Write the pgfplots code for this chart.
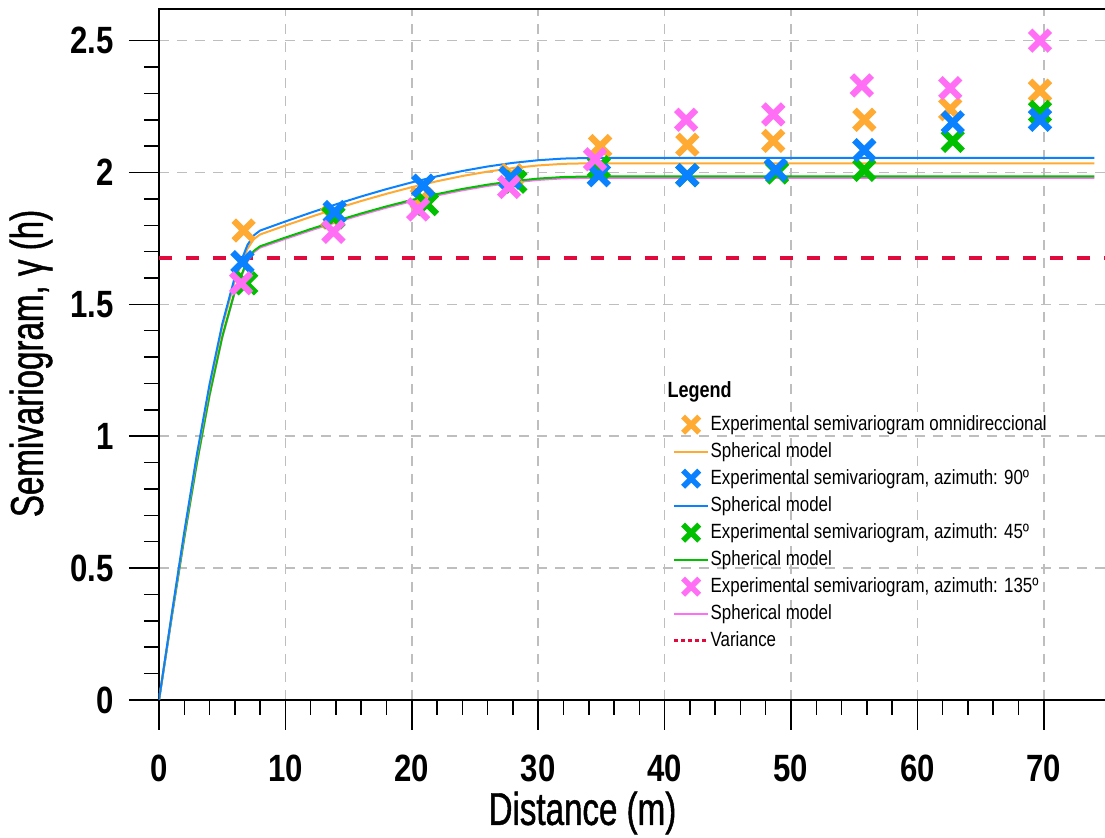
\documentclass[border=0pt]{standalone}
\usepackage{pgfplots}
\pgfplotsset{compat=1.18}
\usepackage{fontspec}
\setmainfont{Liberation Sans}[FakeStretch=0.82]
\newfontfamily\labelfont{Liberation Sans}[FakeStretch=0.72, FakeBold=1.0]
\definecolor{corange}{RGB}{255,170,51}
\definecolor{cblue}{RGB}{10,130,255}
\definecolor{cgreen}{RGB}{0,192,0}
\definecolor{cpink}{RGB}{255,110,245}
\definecolor{cred}{RGB}{225,10,60}
\definecolor{cgrid}{RGB}{190,190,190}
\begin{document}
\begin{tikzpicture}
\begin{axis}[
  scale only axis, width=474pt, height=345.5pt,
  xmin=0, xmax=75, ymin=0, ymax=2.62,
  xtick={0,10,20,30,40,50,60,70},
  ytick={0,0.5,1,1.5,2,2.5},
  minor x tick num=4, minor y tick num=4,
  tick align=outside, xtick pos=bottom, ytick pos=left,
  major tick length=15pt, minor tick length=7.5pt,
  every tick/.style={black, line width=0.75pt},
  axis line style={black, line width=0.9pt},
  grid=major,
  major grid style={cgrid, line width=0.85pt, dash pattern=on 5pt off 4pt},
  /pgf/number format/assume math mode=true,
  tick label style={font=\fontsize{19}{21}\selectfont\bfseries},
  yticklabel style={xshift=-4pt},
  xticklabel style={yshift=-9pt},
  label style={font=\labelfont\fontsize{23}{25}\selectfont},
  xlabel={Distance (m)},
  ylabel={Semivariogram, γ (h)},
  xlabel style={at={(rel axis cs:0.4467,0)}, anchor=center, yshift=-56.5pt},
  ylabel style={at={(rel axis cs:-0.135,0.487)}, anchor=center},
  legend cell align=left,
  legend style={at={(rel axis cs:0.535,0.42)}, anchor=north west, draw=none, fill=none,
    font=\fontsize{10.3}{12}\selectfont, row sep=3pt,
    nodes={inner sep=0.5pt, text height=7.5pt, text depth=2pt}},
]
% legend images
\addlegendimage{only marks, mark=x, mark size=5.7pt, line width=2.8pt, corange}
\addlegendentry{Experimental semivariogram omnidireccional}
\addlegendimage{corange, line width=1pt}
\addlegendentry{Spherical model}
\addlegendimage{only marks, mark=x, mark size=5.7pt, line width=2.8pt, cblue}
\addlegendentry{Experimental semivariogram, azimuth: 90º}
\addlegendimage{cblue, line width=1pt}
\addlegendentry{Spherical model}
\addlegendimage{only marks, mark=x, mark size=5.7pt, line width=2.8pt, cgreen}
\addlegendentry{Experimental semivariogram, azimuth: 45º}
\addlegendimage{cgreen, line width=1pt}
\addlegendentry{Spherical model}
\addlegendimage{only marks, mark=x, mark size=5.7pt, line width=2.8pt, cpink}
\addlegendentry{Experimental semivariogram, azimuth: 135º}
\addlegendimage{cpink, line width=1pt}
\addlegendentry{Spherical model}
\addlegendimage{cred, line width=1.5pt, dash pattern=on 2pt off 1.5pt}
\addlegendentry{Variance}

% variance
\addplot[forget plot, cred, line width=2pt, dash pattern=on 6.5pt off 7pt] coordinates {(0,1.677) (75,1.677)};

% spherical models
\addplot[forget plot, cpink, line width=1pt] coordinates {
(0,0) (1,0.3117) (2,0.6141) (3,0.8979) (4,1.1540) (5,1.3730) (6,1.5457) (7,1.6629) (7.5,1.6978) (8,1.7153)
(10,1.7485) (12,1.7805) (14,1.8110) (16,1.8398) (18,1.8666) (20,1.8911) (22,1.9132) (24,1.9326) (26,1.9490)
(28,1.9622) (30,1.9719) (32,1.9779) (34,1.980) (74,1.980)};
\addplot[forget plot, cgreen, line width=1pt] coordinates {
(0,0) (1,0.3126) (2,0.6159) (3,0.9006) (4,1.1574) (5,1.3771) (6,1.5503) (7,1.6678) (7.5,1.7028) (8,1.7203)
(10,1.7535) (12,1.7855) (14,1.8160) (16,1.8448) (18,1.8716) (20,1.8961) (22,1.9182) (24,1.9376) (26,1.9540)
(28,1.9672) (30,1.9769) (32,1.9829) (34,1.985) (74,1.985)};
\addplot[forget plot, corange, line width=1pt] coordinates {
(0,0) (1,0.3208) (2,0.6320) (3,0.9241) (4,1.1877) (5,1.4131) (6,1.5908) (7,1.7113) (7.5,1.7471) (8,1.7651)
(10,1.7990) (12,1.8316) (14,1.8627) (16,1.8920) (18,1.9193) (20,1.9444) (22,1.9669) (24,1.9867) (26,2.0034)
(28,2.0168) (30,2.0268) (32,2.0329) (34,2.035) (74,2.035)};
\addplot[forget plot, cblue, line width=1pt] coordinates {
(0,0) (1,0.3233) (2,0.6371) (3,0.9316) (4,1.1973) (5,1.4246) (6,1.6039) (7,1.7255) (7.5,1.7617) (8,1.7799)
(10,1.8144) (12,1.8476) (14,1.8793) (16,1.9092) (18,1.9371) (20,1.9626) (22,1.9856) (24,2.0057) (26,2.0228)
(28,2.0365) (30,2.0466) (32,2.0529) (34,2.055) (74,2.055)};

% experimental points
\addplot[forget plot, only marks, mark=x, mark size=7pt, line width=3.2pt, corange] coordinates {
(6.7,1.78) (13.7,1.83) (20.8,1.90) (27.9,1.99) (34.9,2.10) (41.8,2.105) (48.6,2.12) (55.8,2.20) (62.6,2.24) (69.7,2.31)};
\addplot[forget plot, only marks, mark=x, mark size=7pt, line width=3.2pt, cgreen] coordinates {
(6.9,1.58) (13.8,1.83) (21.2,1.88) (28.2,1.965) (34.8,2.02) (41.8,1.99) (48.9,2.00) (55.8,2.01) (62.8,2.12) (69.7,2.23)};
\addplot[forget plot, only marks, mark=x, mark size=7pt, line width=3.2pt, cblue] coordinates {
(6.6,1.66) (13.9,1.85) (20.9,1.95) (27.8,1.98) (34.8,1.99) (41.8,1.99) (48.8,2.01) (55.8,2.085) (62.8,2.19) (69.7,2.20)};
\addplot[forget plot, only marks, mark=x, mark size=7pt, line width=3.2pt, cpink] coordinates {
(6.5,1.58) (13.8,1.775) (20.5,1.86) (27.7,1.945) (34.5,2.05) (41.7,2.20) (48.6,2.22) (55.6,2.33) (62.6,2.32) (69.7,2.50)};

\node[anchor=west, inner sep=0pt, font=\fontsize{11}{13}\selectfont\bfseries] at (rel axis cs:0.536,0.4457) {Legend};
\end{axis}
\pgfresetboundingbox
\path ([xshift=-79.5pt,yshift=-69pt]current axis.south west) rectangle ([xshift=473pt,yshift=350pt]current axis.south west);
\end{tikzpicture}
\end{document}
